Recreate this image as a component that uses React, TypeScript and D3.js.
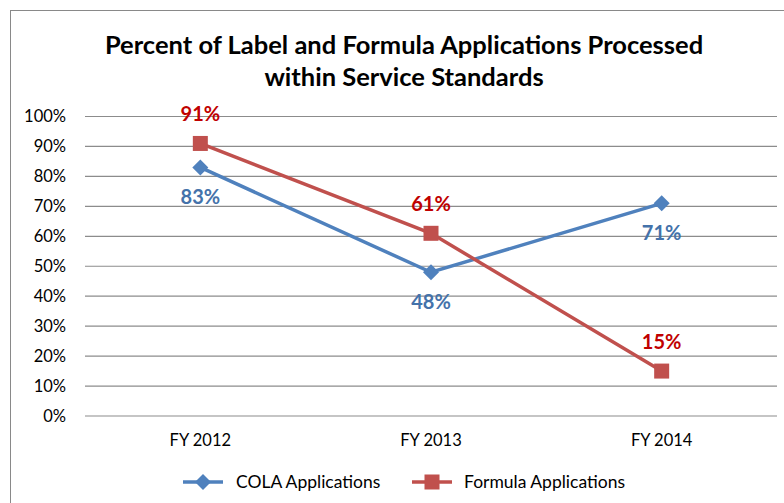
import { useEffect, useRef } from "react"
import * as d3 from "d3"

const categories = ["FY 2012", "FY 2013", "FY 2014"]
const colaValues = [83, 48, 71]
const formulaValues = [91, 61, 15]
const yTicks = [0, 10, 20, 30, 40, 50, 60, 70, 80, 90, 100]
const titleLines = ["Percent of Label and Formula Applications Processed", "within Service Standards"]

const FONT = "Lato, 'Open Sans', sans-serif"

export default function App() {
  const svgRef = useRef<SVGSVGElement>(null)

  useEffect(() => {
    if (!svgRef.current) return
    const svg = d3.select(svgRef.current)
    svg.selectAll("*").remove()

    const margin = { top: 116.5, left: 85, right: 7, bottom: 87 }
    const width = 784
    const height = 503
    const innerW = width - margin.left - margin.right
    const innerH = height - margin.top - margin.bottom

    const x = d3.scaleBand().domain(categories).range([0, innerW])
    const y = d3.scaleLinear().domain([0, 100]).range([innerH, 0])

    svg.append("rect").attr("width", width).attr("height", height).attr("fill", "#fff")
    // chart border (right/bottom fall outside the window)
    svg.append("rect")
      .attr("x", 10.5).attr("y", 10.5)
      .attr("width", 800).attr("height", 520)
      .attr("fill", "none").attr("stroke", "#898989").attr("stroke-width", 1)

    // title
    svg.append("text")
      .attr("x", 404).attr("y", 54)
      .attr("text-anchor", "middle")
      .attr("font-family", FONT).attr("font-weight", "bold").attr("font-size", 25.5)
      .selectAll("tspan").data(titleLines).enter().append("tspan")
      .attr("x", 404).attr("dy", (_d, i) => (i === 0 ? 0 : 32))
      .text((d) => d)

    const g = svg.append("g").attr("transform", `translate(${margin.left},${margin.top})`)

    // grid
    g.selectAll(".grid").data(yTicks).enter().append("line")
      .attr("x1", 0).attr("x2", innerW)
      .attr("y1", (d) => y(d)).attr("y2", (d) => y(d))
      .attr("stroke", "#8c8c8c").attr("stroke-width", 1.2)

    // y labels
    g.selectAll(".ylab").data(yTicks).enter().append("text")
      .attr("x", -19).attr("y", (d) => y(d))
      .attr("dy", "0.35em").attr("text-anchor", "end")
      .attr("font-family", FONT).attr("font-size", 16.5).attr("fill", "#000")
      .text((d) => `${d}%`)

    // x labels
    g.selectAll(".xlab").data(categories).enter().append("text")
      .attr("x", (d) => x(d)! + x.bandwidth() / 2).attr("y", innerH + 30)
      .attr("text-anchor", "middle")
      .attr("font-family", FONT).attr("font-size", 16.5).attr("fill", "#000")
      .text((d) => d)

    const cx = (i: number) => x(categories[i])! + x.bandwidth() / 2
    const line = d3.line<number>().x((_d, i) => cx(i)).y((d) => y(d))

    const series = [
      { name: "COLA Applications", values: colaValues, color: "#4F81BD", label: "#4472AA", marker: "diamond", labelBelow: true },
      { name: "Formula Applications", values: formulaValues, color: "#C0504D", label: "#C00000", marker: "square", labelBelow: false },
    ]

    const drawMarker = (sel: d3.Selection<SVGGElement, unknown, null, undefined>, type: string, color: string, px: number, py: number) => {
      if (type === "square") {
        sel.append("rect").attr("x", px - 7.5).attr("y", py - 7.5).attr("width", 15).attr("height", 15).attr("fill", color)
      } else {
        sel.append("path")
          .attr("d", `M${px},${py - 8}L${px + 8},${py}L${px},${py + 8}L${px - 8},${py}Z`)
          .attr("fill", color)
      }
    }

    series.forEach((s) => {
      const sg = g.append("g")
      sg.append("path").datum(s.values).attr("d", line)
        .attr("fill", "none").attr("stroke", s.color).attr("stroke-width", 3.5)
      s.values.forEach((v, i) => drawMarker(sg as any, s.marker, s.color, cx(i), y(v)))
      sg.selectAll("text").data(s.values).enter().append("text")
        .attr("x", (_d, i) => cx(i))
        .attr("y", (d) => (s.labelBelow ? y(d) + 37 : y(d) - 22))
        .attr("text-anchor", "middle")
        .attr("font-family", FONT).attr("font-weight", "bold").attr("font-size", 20)
        .attr("fill", s.label)
        .text((d) => `${d}%`)
    })

    // legend
    const legendY = 482
    const legendItems = [
      { x0: 183, tx: 236 },
      { x0: 412, tx: 464 },
    ]
    series.forEach((s, i) => {
      const lg = svg.append("g")
      const l = legendItems[i]
      lg.append("line").attr("x1", l.x0).attr("x2", l.x0 + 40)
        .attr("y1", legendY).attr("y2", legendY)
        .attr("stroke", s.color).attr("stroke-width", 3.5)
      drawMarker(lg as any, s.marker, s.color, l.x0 + 20, legendY)
      lg.append("text").attr("x", l.tx).attr("y", legendY).attr("dy", "0.35em")
        .attr("font-family", FONT).attr("font-size", 17.5).attr("fill", "#000")
        .text(s.name)
    })
  }, [])

  return (
    <svg
      ref={svgRef}
      width={784}
      height={503}
      style={{ position: "absolute", left: 0, top: 0, display: "block" }}
    />
  )
}
